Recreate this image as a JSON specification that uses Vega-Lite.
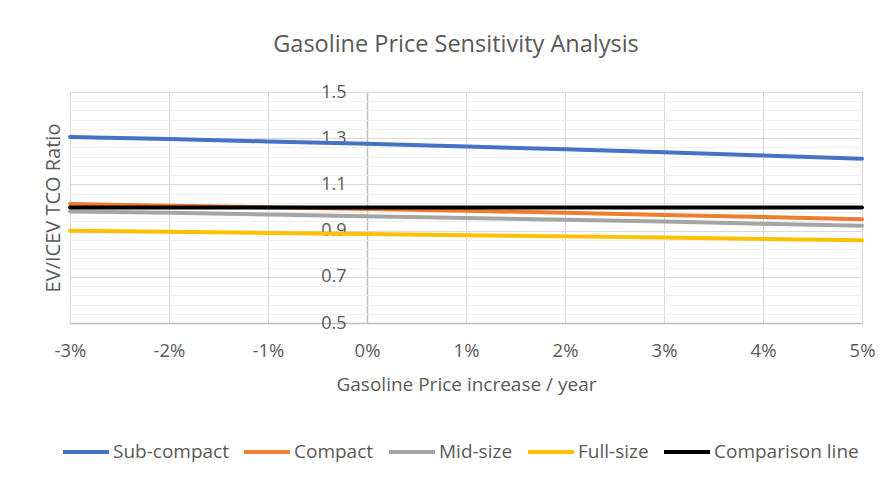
{
  "$schema": "https://vega.github.io/schema/vega-lite/v6.json",
  "autosize": "none",
  "width": 792,
  "height": 231,
  "padding": {"left": 70, "top": 92, "right": 30, "bottom": 162},
  "background": "white",
  "title": {
    "text": "Gasoline Price Sensitivity Analysis",
    "font": "Open Sans",
    "fontSize": 23.5,
    "fontWeight": "normal",
    "color": "#595959",
    "anchor": "middle",
    "dx": -10,
    "offset": 27
  },
  "data": {
    "values": [
      {"increase": -3, "series": "Sub-compact", "ratio": 1.305},
      {"increase": -2, "series": "Sub-compact", "ratio": 1.296},
      {"increase": -1, "series": "Sub-compact", "ratio": 1.286},
      {"increase": 0, "series": "Sub-compact", "ratio": 1.276},
      {"increase": 1, "series": "Sub-compact", "ratio": 1.264},
      {"increase": 2, "series": "Sub-compact", "ratio": 1.252},
      {"increase": 3, "series": "Sub-compact", "ratio": 1.239},
      {"increase": 4, "series": "Sub-compact", "ratio": 1.225},
      {"increase": 5, "series": "Sub-compact", "ratio": 1.211},
      {"increase": -3, "series": "Compact", "ratio": 1.015},
      {"increase": -2, "series": "Compact", "ratio": 1.008},
      {"increase": -1, "series": "Compact", "ratio": 1.001},
      {"increase": 0, "series": "Compact", "ratio": 0.994},
      {"increase": 1, "series": "Compact", "ratio": 0.986},
      {"increase": 2, "series": "Compact", "ratio": 0.977},
      {"increase": 3, "series": "Compact", "ratio": 0.968},
      {"increase": 4, "series": "Compact", "ratio": 0.959},
      {"increase": 5, "series": "Compact", "ratio": 0.949},
      {"increase": -3, "series": "Mid-size", "ratio": 0.983},
      {"increase": -2, "series": "Mid-size", "ratio": 0.977},
      {"increase": -1, "series": "Mid-size", "ratio": 0.970},
      {"increase": 0, "series": "Mid-size", "ratio": 0.962},
      {"increase": 1, "series": "Mid-size", "ratio": 0.955},
      {"increase": 2, "series": "Mid-size", "ratio": 0.947},
      {"increase": 3, "series": "Mid-size", "ratio": 0.939},
      {"increase": 4, "series": "Mid-size", "ratio": 0.930},
      {"increase": 5, "series": "Mid-size", "ratio": 0.921},
      {"increase": -3, "series": "Full-size", "ratio": 0.899},
      {"increase": -2, "series": "Full-size", "ratio": 0.895},
      {"increase": -1, "series": "Full-size", "ratio": 0.890},
      {"increase": 0, "series": "Full-size", "ratio": 0.885},
      {"increase": 1, "series": "Full-size", "ratio": 0.880},
      {"increase": 2, "series": "Full-size", "ratio": 0.875},
      {"increase": 3, "series": "Full-size", "ratio": 0.870},
      {"increase": 4, "series": "Full-size", "ratio": 0.864},
      {"increase": 5, "series": "Full-size", "ratio": 0.858},
      {"increase": -3, "series": "Comparison line", "ratio": 1.0},
      {"increase": -2, "series": "Comparison line", "ratio": 1.0},
      {"increase": -1, "series": "Comparison line", "ratio": 1.0},
      {"increase": 0, "series": "Comparison line", "ratio": 1.0},
      {"increase": 1, "series": "Comparison line", "ratio": 1.0},
      {"increase": 2, "series": "Comparison line", "ratio": 1.0},
      {"increase": 3, "series": "Comparison line", "ratio": 1.0},
      {"increase": 4, "series": "Comparison line", "ratio": 1.0},
      {"increase": 5, "series": "Comparison line", "ratio": 1.0}
    ]
  },
  "mark": {"type": "line", "strokeWidth": 4, "strokeCap": "round"},
  "encoding": {
    "x": {
      "field": "increase",
      "type": "quantitative",
      "scale": {"domain": [-3, 5], "nice": false, "zero": false},
      "axis": {
        "title": "Gasoline Price increase / year",
        "values": [-3, -2, -1, 0, 1, 2, 3, 4, 5],
        "labelExpr": "datum.value + '%'",
        "labelFlush": false,
        "labelFontSize": 18.5,
        "ticks": false,
        "labelPadding": 18,
        "titlePadding": 16,
        "domainColor": "#BFBFBF",
        "domainWidth": 1.5,
        "grid": true,
        "gridColor": {"condition": {"test": "datum.value == 0", "value": "#BFBFBF"}, "value": "#D9D9D9"},
        "gridWidth": {"condition": {"test": "datum.value == 0", "value": 1.5}, "value": 1}
      }
    },
    "y": {
      "field": "ratio",
      "type": "quantitative",
      "scale": {"domain": [0.5, 1.5], "nice": false, "zero": false},
      "axis": {
        "title": "EV/ICEV TCO Ratio",
        "titleX": -305,
        "titleFontSize": 20,
        "labelFontSize": 18,
        "offset": -298,
        "domain": false,
        "ticks": false,
        "labelPadding": 22,
        "labelOverlap": false,
        "values": [0.5, 0.54, 0.58, 0.62, 0.66, 0.7, 0.74, 0.78, 0.82, 0.86, 0.9, 0.94, 0.98, 1.02, 1.06, 1.1, 1.14, 1.18, 1.22, 1.26, 1.3, 1.34, 1.38, 1.42, 1.46, 1.5],
        "labelExpr": "(abs(datum.value * 10 - round(datum.value * 10)) < 0.01 && round(datum.value * 10) % 2 == 1) ? format(datum.value, '.1f') : ''",
        "grid": true,
        "gridColor": {"condition": {"test": "abs(datum.value * 10 - round(datum.value * 10)) < 0.01 && round(datum.value * 10) % 2 == 1", "value": "#D9D9D9"}, "value": "#EFEFEF"}
      }
    },
    "color": {
      "field": "series",
      "type": "nominal",
      "sort": ["Sub-compact", "Compact", "Mid-size", "Full-size", "Comparison line"],
      "scale": {
        "domain": ["Sub-compact", "Compact", "Mid-size", "Full-size", "Comparison line"],
        "range": ["#4472C4", "#ED7D31", "#A5A5A5", "#FFC000", "#000000"]
      },
      "legend": {
        "title": null,
        "orient": "none",
        "legendX": -9,
        "legendY": 335,
        "direction": "horizontal",
        "symbolType": "stroke",
        "symbolSize": 2116,
        "symbolStrokeWidth": 4,
        "labelOffset": 2,
        "columnPadding": 7,
        "labelFontSize": 19,
        "labelFont": "Open Sans",
        "labelColor": "#595959",
        "labelLimit": 300
      }
    }
  },
  "config": {
    "view": {"stroke": null},
    "axis": {
      "labelFont": "Open Sans",
      "titleFont": "Open Sans",
      "labelFontSize": 17,
      "titleFontSize": 19,
      "titleFontWeight": "normal",
      "labelColor": "#595959",
      "titleColor": "#595959"
    }
  }
}
